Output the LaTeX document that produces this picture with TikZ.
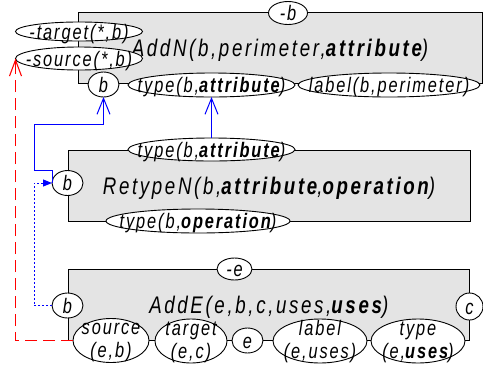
\documentclass[tikz,border=0pt]{standalone}
\usepackage{fontspec}
\newfontfamily\dfont[FakeStretch=0.78,LetterSpace=9]{Liberation Sans}
\newfontfamily\gfont[FakeStretch=0.78,LetterSpace=11]{Liberation Sans}
\usetikzlibrary{shapes.geometric,arrows.meta}
\definecolor{boxgray}{HTML}{E4E4E4}
\newcommand\onel[1]{\raisebox{-7.5pt}[0pt][0pt]{\makebox[0pt]{#1}}}
\newcommand\bigt[1]{\raisebox{-8.6pt}[0pt][0pt]{\makebox[0pt]{#1}}}
\newcommand\twol[2]{\makebox[0pt]{\raisebox{6pt}[0pt][0pt]{\makebox[0pt]{#1}}\raisebox{-17pt}[0pt][0pt]{\makebox[0pt]{#2}}}}
\begin{document}
\begin{tikzpicture}[x=1pt,y=-1pt,
  every node/.style={inner sep=0pt,outer sep=0pt},
  opbox/.style={draw=black,fill=boxgray,line width=0.9pt,rectangle,font=\gfont\itshape\fontsize{24}{28}\selectfont},
  ell/.style={draw=black,fill=white,ellipse,line width=0.9pt,font=\dfont\itshape\fontsize{21}{24}\selectfont},
  bluesolid/.style={color=blue,line width=1pt,-{Straight Barb[length=16pt,width=13pt]}},
  bluedot/.style={color=blue,line width=1pt,dash pattern=on 2pt off 2pt,-{Triangle[length=9pt,width=7pt]}},
  reddash/.style={color=red,line width=1.1pt,dash pattern=on 12pt off 6pt,-{Straight Barb[length=16pt,width=12pt]}}]
\useasboundingbox (0,0) rectangle (483,368);
% boxes
\node[opbox,minimum width=404pt,minimum height=71pt] (addn) at (280,47.5) {\bigt{AddN(b,perimeter,\textbf{attribute})}};
\node[opbox,minimum width=402pt,minimum height=71pt] (retype) at (269,185.5) {\bigt{RetypeN(b,\textbf{attribute},\textbf{operation})}};
\node[opbox,minimum width=401.5pt,minimum height=71pt] (adde) at (268.75,304.5) {\bigt{AddE(e,b,c,uses,\textbf{uses})}};
% AddN ellipses
\node[ell,minimum width=39pt,minimum height=23pt] (mb) at (288,13) {\onel{-b}};
\node[ell,minimum width=127pt,minimum height=19pt] (mt) at (79,31.5) {\onel{-target(*,b)}};
\node[ell,minimum width=127pt,minimum height=23pt] (ms) at (79,58.5) {\onel{-source(*,b)}};
\node[ell,minimum width=31pt,minimum height=25pt] (bN) at (103.5,84.5) {\onel{b}};
\node[ell,minimum width=167pt,minimum height=24pt] (tN) at (211.5,85) {\onel{type(b,\textbf{attribute})}};
\node[ell,minimum width=182pt,minimum height=24pt] (lN) at (389,85) {\onel{label(b,perimeter)}};
% RetypeN ellipses
\node[ell,minimum width=167pt,minimum height=23pt] (tR) at (211.5,149.5) {\onel{type(b,\textbf{attribute})}};
\node[ell,minimum width=31pt,minimum height=25pt] (bR) at (67.5,183) {\onel{b}};
\node[ell,minimum width=184pt,minimum height=24pt] (oR) at (198,221) {\onel{type(b,\textbf{operation})}};
% AddE ellipses
\node[ell,minimum width=35pt,minimum height=22pt] (me) at (234.5,269) {\onel{-e}};
\node[ell,minimum width=31pt,minimum height=25pt] (bE) at (67.5,305.5) {\onel{b}};
\node[ell,minimum width=27pt,minimum height=27pt] (cE) at (469.5,306.5) {\onel{c}};
\node[ell,minimum width=76pt,minimum height=44pt] (sE) at (111,340.5) {\twol{source}{(e,b)}};
\node[ell,minimum width=72pt,minimum height=44pt] (tE) at (191,341) {\twol{target}{(e,c)}};
\node[ell,minimum width=31pt,minimum height=25pt] (eE) at (247.5,340.5) {\onel{e}};
\node[ell,minimum width=94pt,minimum height=44pt] (lE) at (320,341) {\twol{label}{(e,uses)}};
\node[ell,minimum width=94pt,minimum height=44pt] (yE) at (418,341) {\twol{type}{(e,\textbf{uses})}};
% connectors
\coordinate (j1) at (34,124.5);
\coordinate (j2) at (34,183);
\draw[bluesolid] (bR.west) -- ++(0,-13) -| (j1) -| (bN.south);
\draw[bluesolid] (tR.north) -- (tN.south);
\draw[bluedot] (bE.west) -| (j2) -- (bR.west);
\draw[reddash] (sE.west) -| (ms.west);
\end{tikzpicture}
\end{document}
